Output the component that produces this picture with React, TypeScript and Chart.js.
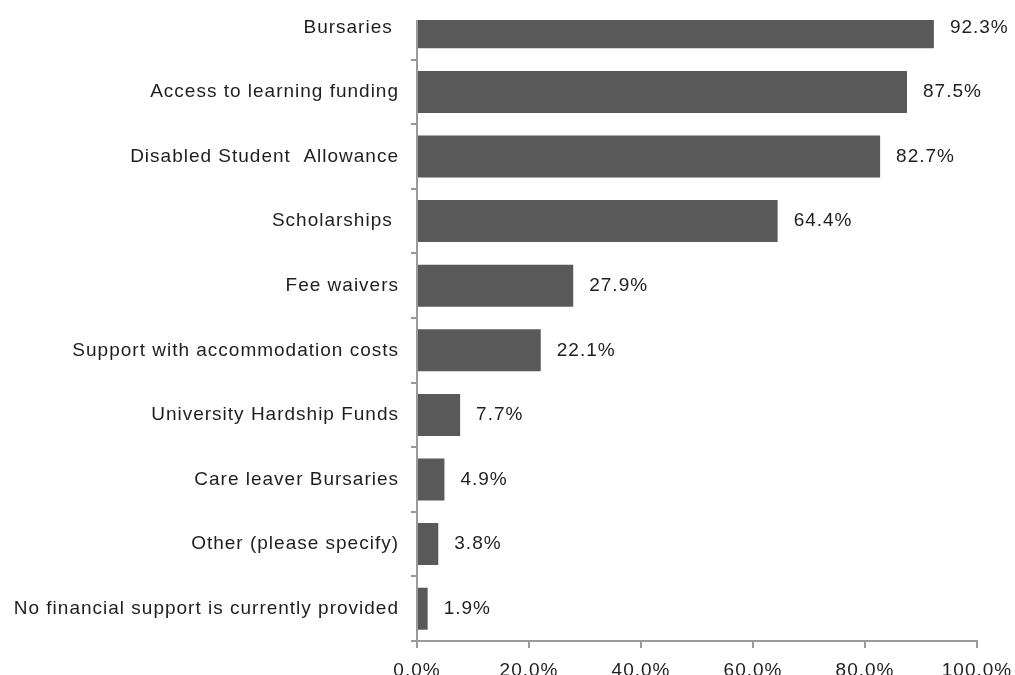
import React, { useEffect, useRef } from 'react';
import { Chart, registerables } from 'chart.js';

Chart.register(...registerables);

const categories = [
  'Bursaries ',
  'Access to learning funding',
  'Disabled Student  Allowance',
  'Scholarships ',
  'Fee waivers',
  'Support with accommodation costs',
  'University Hardship Funds',
  'Care leaver Bursaries',
  'Other (please specify)',
  'No financial support is currently provided',
];
const values = [92.3, 87.5, 82.7, 64.4, 27.9, 22.1, 7.7, 4.9, 3.8, 1.9];
const xTickValues = [0, 20, 40, 60, 80, 100];

const FONT = '"Liberation Sans", Arial, sans-serif';
const TEXT = '#1e1e1e';
const AXIS = '#9a9a9a';
const BAR = '#595959';
const SPACING = '1px';

const spacingPlugin = {
  id: 'spacing',
  beforeUpdate(chart: any) {
    chart.ctx.letterSpacing = SPACING;
  },
  beforeDraw(chart: any) {
    chart.ctx.letterSpacing = SPACING;
  },
};

const barLabelPlugin = {
  id: 'barLabels',
  afterDatasetsDraw(chart: any) {
    const ctx = chart.ctx;
    const meta = chart.getDatasetMeta(0);
    ctx.save();
    ctx.letterSpacing = SPACING;
    ctx.font = `19px ${FONT}`;
    ctx.fillStyle = TEXT;
    ctx.textAlign = 'left';
    ctx.textBaseline = 'middle';
    meta.data.forEach((bar: any, i: number) => {
      ctx.fillText(values[i].toFixed(1) + '%', bar.x + 16, bar.y);
    });
    ctx.restore();
  },
};

export default function App() {
  const ref = useRef<HTMLCanvasElement | null>(null);

  useEffect(() => {
    const canvas = ref.current;
    if (!canvas) return;
    const chart = new Chart(canvas, {
      type: 'bar',
      data: {
        labels: categories,
        datasets: [
          {
            data: values,
            backgroundColor: BAR,
            borderWidth: 0,
            barPercentage: 0.65,
            categoryPercentage: 1,
          },
        ],
      },
      options: {
        indexAxis: 'y',
        responsive: false,
        animation: false,
        devicePixelRatio: 1,
        layout: { padding: { top: 0, right: 38, left: 0, bottom: 0 } },
        plugins: {
          legend: { display: false },
          tooltip: { enabled: false },
        },
        scales: {
          x: {
            type: 'linear',
            min: 0,
            max: 100,
            afterBuildTicks: (s: any) => {
              s.ticks = xTickValues.map((v) => ({ value: v }));
            },
            afterFit: (s: any) => {
              s.height = 40;
              s.paddingLeft = 0;
              s.paddingRight = 0;
            },
            grid: {
              drawOnChartArea: false,
              drawTicks: true,
              tickLength: 7,
              color: AXIS,
              lineWidth: 2,
            },
            border: { display: true, color: AXIS, width: 2 },
            ticks: {
              color: TEXT,
              font: { family: FONT, size: 19 },
              padding: 11,
              maxRotation: 0,
              callback: (v: any) => Number(v).toFixed(1) + '%',
            },
          },
          y: {
            type: 'category',
            afterFit: (s: any) => {
              s.width = 417;
              s.paddingTop = 0;
              s.paddingBottom = 0;
            },
            grid: {
              offset: true,
              drawOnChartArea: false,
              drawTicks: true,
              tickLength: 6,
              color: AXIS,
              lineWidth: 2,
            },
            border: { display: true, color: AXIS, width: 2 },
            ticks: {
              color: TEXT,
              font: { family: FONT, size: 19 },
              padding: 12,
              autoSkip: false,
            },
          },
        },
      },
      plugins: [spacingPlugin, barLabelPlugin],
    } as any);
    return () => chart.destroy();
  }, []);

  return (
    <div
      style={{
        position: 'fixed',
        left: 0,
        top: 0,
        width: 1015,
        height: 675,
        overflow: 'hidden',
        background: '#ffffff',
      }}
    >
      <div
        style={{
          position: 'absolute',
          left: 0,
          top: 20,
          width: 1015,
          height: 655,
          overflow: 'hidden',
        }}
      >
        <canvas
          ref={ref}
          width={1015}
          height={686}
          style={{ position: 'absolute', left: 0, top: -25, width: 1015, height: 686 }}
        />
      </div>
    </div>
  );
}
